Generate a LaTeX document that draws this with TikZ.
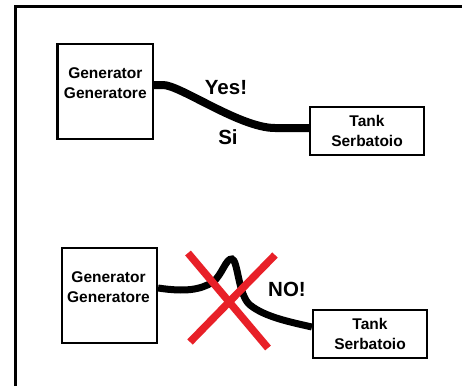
\documentclass[tikz,border=0pt]{standalone}
\usepackage{fontspec}
\setmainfont{Liberation Sans}
\begin{document}
\begin{tikzpicture}[x=1pt,y=-1pt,
  boxst/.style={draw=black,line width=2.2pt,inner sep=0pt,align=center,
    font=\bfseries\fontsize{15.5}{20}\selectfont},
  txt/.style={inner sep=0pt,align=center,font=\bfseries\fontsize{15.5}{20}\selectfont},
  lbl/.style={inner sep=0pt,font=\bfseries\fontsize{20.5}{24}\selectfont},
  cable/.style={draw=black,line width=8pt},
  cablethin/.style={draw=black,line width=7pt},
  redx/.style={draw=xred,line width=7.5pt}]
\definecolor{xred}{RGB}{232,32,40}
\useasboundingbox (0,0) rectangle (462,386);
% frame
\draw[line width=2.6pt] (15.3,386) -- (15.3,6.2) -- (462,6.2);
% top diagram
\node[boxst,minimum width=95.5pt,minimum height=95pt] (gen1) at (105.3,91.5) {};
\node[txt] (gen1t) at (105.3,83) {Generator\\Generatore};
\node[boxst,minimum width=114pt,minimum height=48pt] (tank1) at (367,131) {Tank\\Serbatoio};
\coordinate (c1a) at (gen1.east |- 0,85);
\coordinate (c1b) at (tank1.west |- 0,128);
\draw[cable] (c1a) -- (163,85) .. controls (180,85) and (240,128) .. (275,128) -- (c1b);
\node[lbl] (yes) at (226,88) {Yes!};
\node[lbl] (si) at (228,137) {Si};
% bottom diagram
\node[boxst,minimum width=95pt,minimum height=95pt] (gen2) at (109.5,295.5) {};
\node[txt] (gen2t) at (108.5,287.5) {Generator\\Generatore};
\node[boxst,minimum width=114pt,minimum height=48pt] (tank2) at (370,334) {Tank\\Serbatoio};
\coordinate (c2a) at (gen2.east |- 0,288);
\coordinate (c2b) at (tank2.west |- 0,327);
\draw[cablethin] (c2a) .. controls (185,292) and (200,290) .. (213,282)
  .. controls (222,275) and (226,258) .. (232,259)
  .. controls (238,260) and (238,295) .. (250,305)
  .. controls (265,317) and (290,322) .. (c2b);
\node[lbl] (no) at (287,289) {NO!};
\coordinate (x1a) at (188,253);
\coordinate (x1b) at (268,348);
\coordinate (x2a) at (275,255);
\coordinate (x2b) at (190,342);
\draw[redx] (x1a) -- (x1b);
\draw[redx] (x2a) -- (x2b);
\end{tikzpicture}
\end{document}
